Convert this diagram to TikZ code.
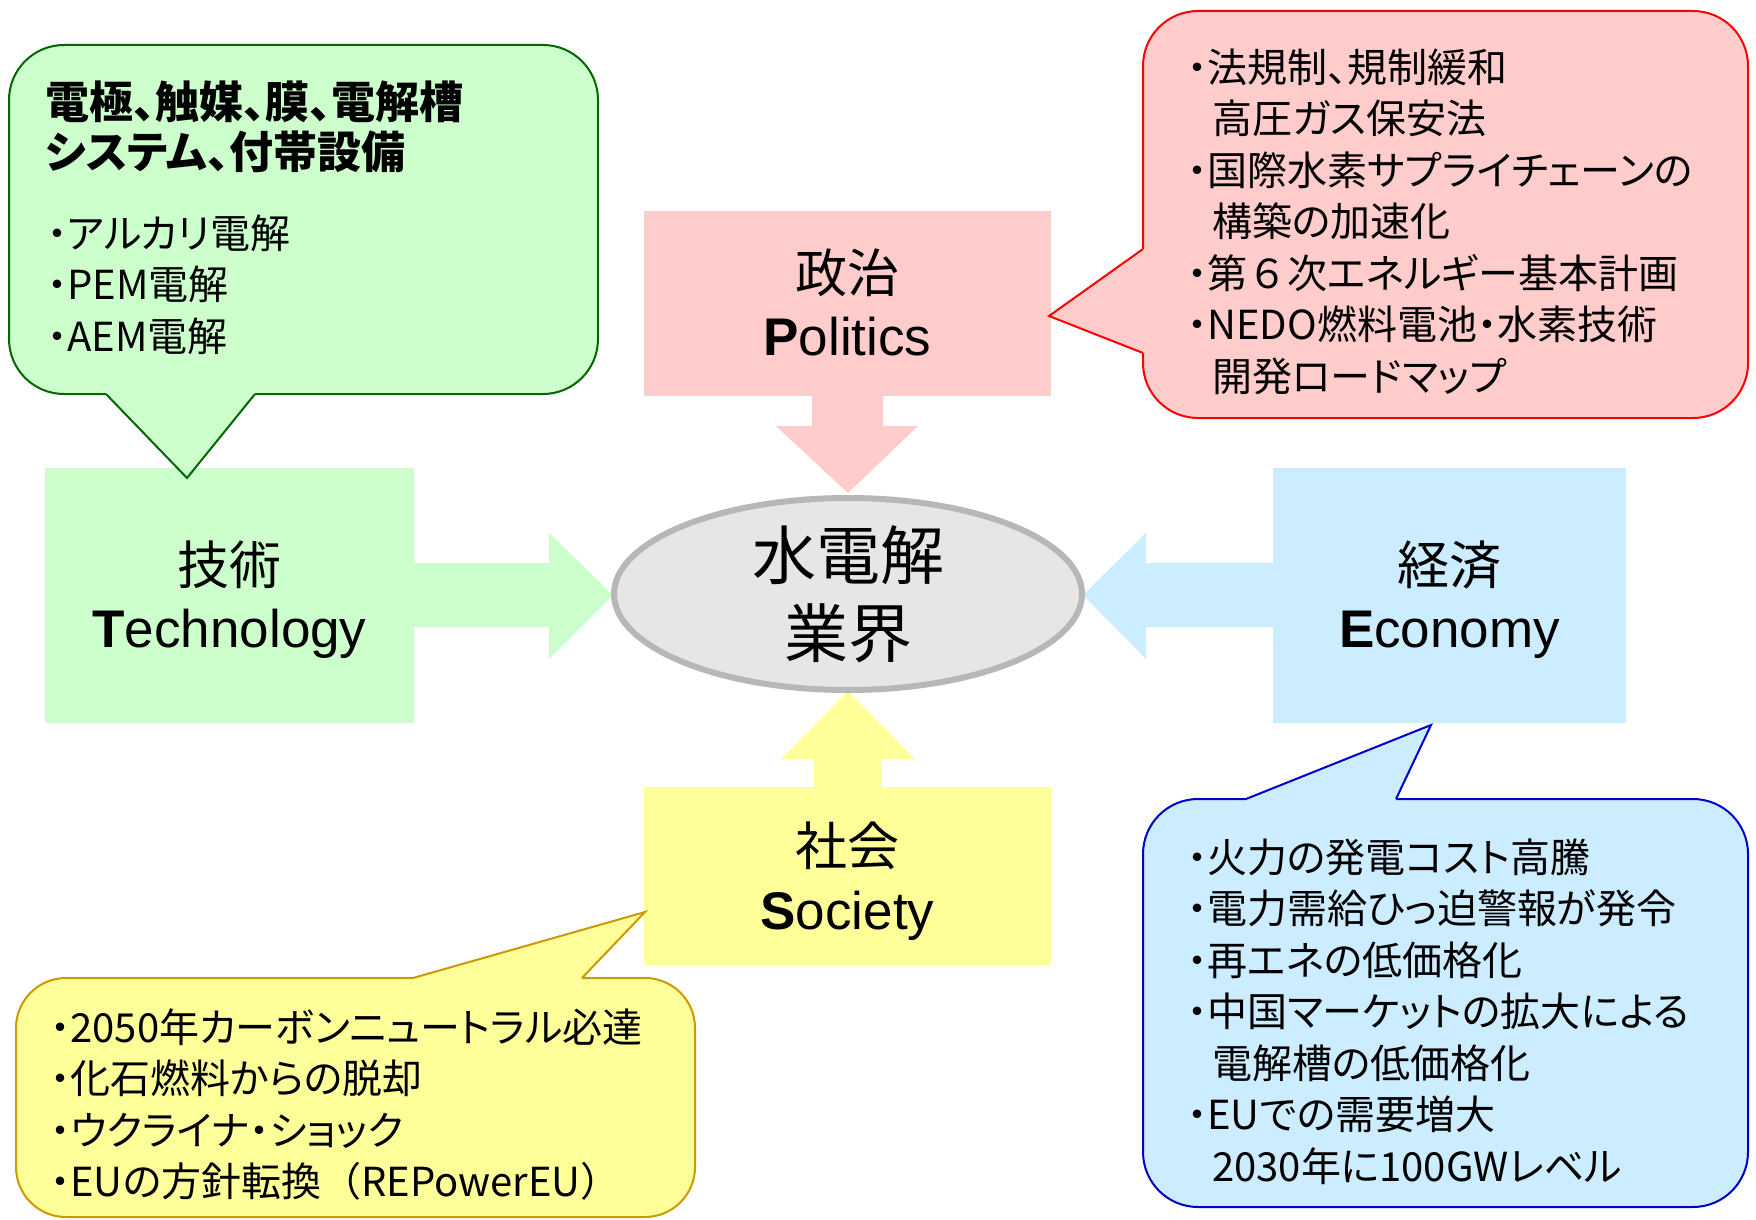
\documentclass[tikz,border=0pt]{standalone}
\usepackage{fontspec}
\setmainfont{Liberation Sans}
\newfontfamily\cjk[RawFeature=+palt]{Noto Sans CJK JP}
\newfontfamily\cjkw{Noto Sans CJK JP}
\usetikzlibrary{shapes.geometric,calc}
\definecolor{gfill}{HTML}{CCFFCC}
\definecolor{gline}{HTML}{006600}
\definecolor{rfill}{HTML}{FFCCCC}
\definecolor{rline}{HTML}{FF0000}
\definecolor{bfill}{HTML}{CCECFF}
\definecolor{bline}{HTML}{0000CC}
\definecolor{yfill}{HTML}{FFFF99}
\definecolor{yline}{HTML}{CC9900}
\definecolor{efill}{HTML}{E6E6E6}
\definecolor{eline}{HTML}{B7B7B7}
\newcommand\bl{\makebox[0.5em][c]{・}}
\newcommand\ind{\hspace*{0.62em}}
\begin{document}
\begin{tikzpicture}[x=0.5pt,y=-0.5pt,
  box/.style={rectangle,inner sep=0,outer sep=0,draw=none},
  boxj/.style={font=\cjk\fontsize{26}{30}\selectfont,inner sep=0,anchor=base},
  boxl/.style={font=\fontsize{26.5}{30}\selectfont,inner sep=0,anchor=base},
  ctext/.style={font=\cjk\fontsize{20}{25.75}\selectfont,align=left,inner sep=0,anchor=base west},
  cframe/.style={line width=1pt,rounded corners=27.5pt},
  ptr/.style={line width=1pt,line join=miter},
]
\fill[white] (0,0) rectangle (1756,1220);
\useasboundingbox (0,0) rectangle (1756,1220);

% factor boxes
\node[box,fill=gfill,minimum width=184.5pt,minimum height=127.5pt] (tech) at (229.5,595.5) {};
\node[box,fill=rfill,minimum width=203.5pt,minimum height=92.5pt] (pol) at (847.5,303.5) {};
\node[box,fill=bfill,minimum width=176.5pt,minimum height=127.5pt] (eco) at (1449.5,595.5) {};
\node[box,fill=yfill,minimum width=203.5pt,minimum height=89pt] (soc) at (847.5,876) {};

% block arrows
\fill[gfill] (410,563) -- (549,563) -- (549,533) -- (613,595) -- (549,659) -- (549,627) -- (410,627) -- cycle;
\fill[rfill] (812,392) -- (883,392) -- (883,426) -- (918,426) -- (848,493) -- (776,426) -- (812,426) -- cycle;
\fill[bfill] (1277,563) -- (1146,563) -- (1146,533) -- (1083,595) -- (1146,659) -- (1146,627) -- (1277,627) -- cycle;
\fill[yfill] (814,790) -- (814,759) -- (781,759) -- (848,691) -- (915,759) -- (881,759) -- (881,790) -- cycle;

% centre
\node[ellipse,draw=eline,fill=efill,line width=3pt,minimum width=234pt,minimum height=96pt,inner sep=0] (core) at (848,594) {};
\node[font=\cjk\fontsize{32}{39}\selectfont,inner sep=0,anchor=base] (c1) at ($(core.center)+(0,-15)$) {水電解};
\node[font=\cjk\fontsize{32}{39}\selectfont,inner sep=0,anchor=base] (c2) at ($(core.center)+(0,63)$) {業界};

% box labels
\node[boxj] (techj) at ($(tech.center)+(0,-11)$) {技術};
\node[boxl] (techl) at ($(tech.center)+(0,52)$) {\textbf{T}echnology};
\node[boxj] (polj) at ($(pol.center)+(0,-11)$) {政治};
\node[boxl] (poll) at ($(pol.center)+(0,52)$) {\textbf{P}olitics};
\node[boxj] (ecoj) at ($(eco.center)+(0,-11)$) {経済};
\node[boxl] (ecol) at ($(eco.center)+(0,52)$) {\textbf{E}conomy};
\node[boxj] (socj) at ($(soc.center)+(0,-11)$) {社会};
\node[boxl] (socl) at ($(soc.center)+(0,53)$) {\textbf{S}ociety};

% green callout
\draw[cframe,draw=gline,fill=gfill] (9,45) rectangle (598,394);
\fill[gfill] (106,389) -- (106,394) -- (187,478) -- (255,394) -- (255,389) -- cycle;
\draw[ptr,gline] (106,394) -- (187,478) -- (255,394);
\node[font=\cjk\bfseries\fontsize{22}{25}\selectfont,align=left,inner sep=0,anchor=base west] (ghead) at (45,169) {電極、触媒、膜、電解槽\\システム、付帯設備};
\node[ctext] (glist) at (47,351) {\bl アルカリ電解\\\bl PEM電解\\\bl AEM電解};

% red callout
\draw[cframe,draw=rline,fill=rfill] (1143,11) rectangle (1748,418);
\fill[rfill] (1148,249) -- (1143,249) -- (1049,316) -- (1143,353) -- (1148,353) -- cycle;
\draw[ptr,rline] (1143,249) -- (1049,316) -- (1143,353);
\node[ctext] (rlist) at (1187,391) {\bl 法規制、規制緩和\\
\ind 高圧ガス保安法\\
\bl 国際水素サプライチェーンの\\
\ind 構築の加速化\\
\bl 第{\cjkw ６}次エネルギー基本計画\\
\bl NEDO燃料電池・水素技術\\
\ind 開発ロードマップ};

% blue callout
\draw[cframe,draw=bline,fill=bfill] (1143,799) rectangle (1748,1207);
\fill[bfill] (1246,804) -- (1246,799) -- (1431,725) -- (1396,799) -- (1396,804) -- cycle;
\draw[ptr,bline] (1246,799) -- (1431,725) -- (1396,799);
\node[ctext] (blist) at (1187,1181) {\bl 火力の発電コスト高騰\\
\bl 電力需給ひっ迫警報が発令\\
\bl 再エネの低価格化\\
\bl 中国マーケットの拡大による\\
\ind 電解槽の低価格化\\
\bl EUでの需要増大\\
\ind 2030年に100GWレベル};

% yellow callout
\draw[line width=1pt,rounded corners=25pt,draw=yline,fill=yfill] (16,978) rectangle (695,1217);
\fill[yfill] (413,983) -- (413,978) -- (645,912) -- (582,978) -- (582,983) -- cycle;
\draw[ptr,yline] (413,978) -- (645,912) -- (582,978);
\node[ctext] (ylist) at (50,1196.5) {\bl 2050年カーボンニュートラル必達\\
\bl 化石燃料からの脱却\\
\bl ウクライナ・ショック\\
\bl EUの方針転換{\cjkw （}REPowerEU{\cjkw ）}};
\end{tikzpicture}
\end{document}
